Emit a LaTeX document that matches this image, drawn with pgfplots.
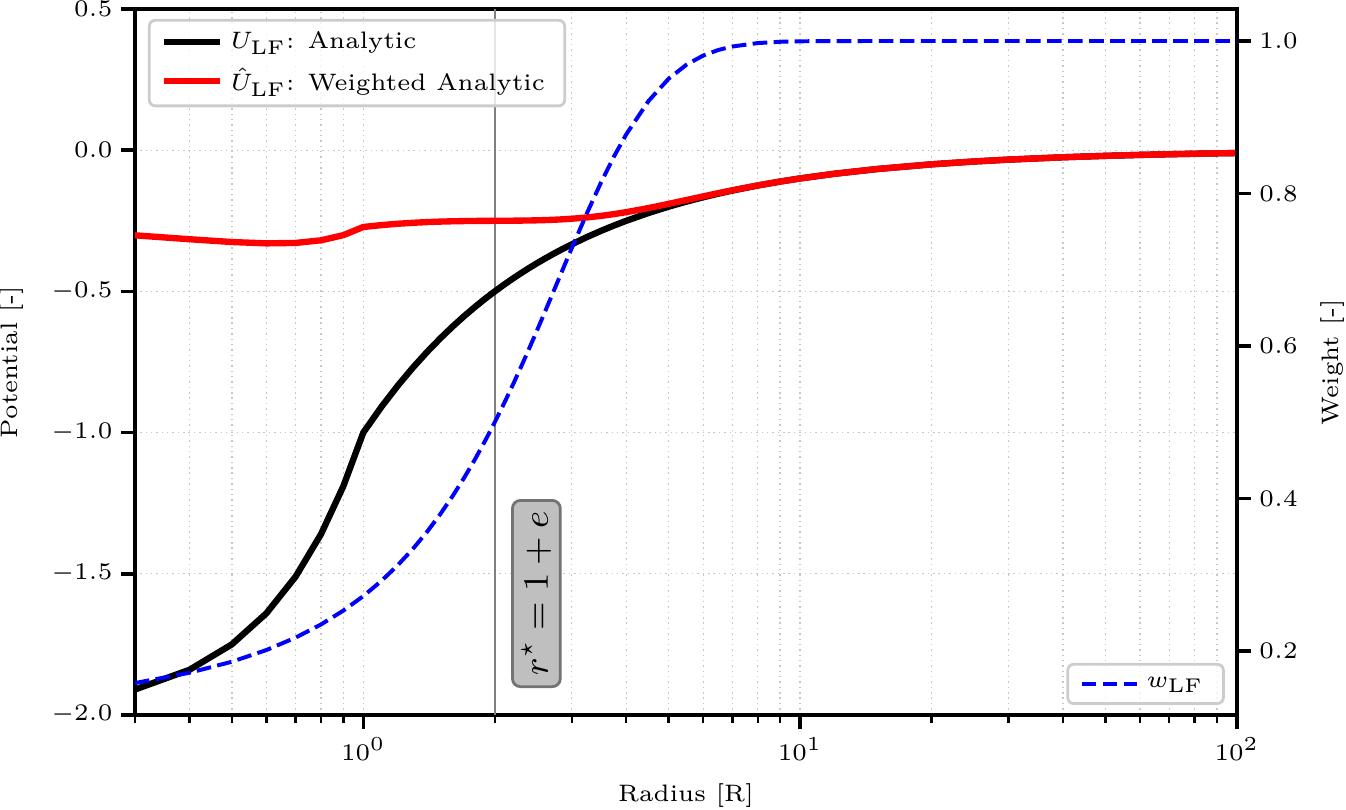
\documentclass[border=0pt]{standalone}
\usepackage{pgfplots}
\usepackage{pgfplotstable}
\pgfplotsset{compat=1.18}
\usetikzlibrary{calc}

\pgfplotstableread{
r U Uh w
0.3 -1.91 -0.30146 0.15783
0.4 -1.84 -0.31528 0.17135
0.5 -1.75 -0.32515 0.18580
0.6 -1.64 -0.32992 0.20117
0.7 -1.51 -0.32839 0.21748
0.8 -1.36 -0.31916 0.23468
0.9 -1.19 -0.30089 0.25285
1.0 -1.0 -0.27189 0.27189
1.1 -0.90909 -0.26530 0.29183
1.2 -0.83333 -0.26050 0.31260
1.3 -0.76923 -0.25703 0.33414
1.4 -0.71429 -0.25456 0.35638
1.5 -0.66667 -0.25287 0.37930
1.6 -0.62500 -0.25173 0.40276
1.7 -0.58824 -0.25098 0.42666
1.8 -0.55556 -0.25051 0.45092
1.9 -0.52632 -0.25021 0.47539
2.0 -0.50000 -0.25000 0.50000
2.1 -0.47619 -0.24981 0.52461
2.2 -0.45455 -0.24959 0.54908
2.3 -0.43478 -0.24928 0.57334
2.4 -0.41667 -0.24885 0.59724
2.5 -0.40000 -0.24828 0.62070
2.6 -0.38462 -0.24755 0.64362
2.7 -0.37037 -0.24661 0.66586
2.8 -0.35714 -0.24550 0.68740
2.9 -0.34483 -0.24420 0.70817
3.0 -0.33333 -0.24270 0.72811
3.25 -0.30769 -0.23816 0.77404
3.5 -0.28571 -0.23262 0.81419
3.75 -0.26667 -0.22630 0.84861
4.0 -0.25 -0.21940 0.87761
4.5 -0.22222 -0.20477 0.92147
5.0 -0.2 -0.19010 0.95052
5.5 -0.18182 -0.17621 0.96915
6.0 -0.16667 -0.16349 0.98092
6.5 -0.15385 -0.15204 0.98825
7 -0.14286 -0.14183 0.99279
8 -0.125 -0.12466 0.99729
9 -0.11111 -0.11100 0.99899
10 -0.1 -0.09996 0.99962
12 -0.08333 -0.08333 0.99995
15 -0.06667 -0.06667 1.0
20 -0.05 -0.05 1.0
25 -0.04 -0.04 1.0
30 -0.03333 -0.03333 1.0
40 -0.025 -0.025 1.0
50 -0.02 -0.02 1.0
60 -0.01667 -0.01667 1.0
70 -0.01429 -0.01429 1.0
80 -0.0125 -0.0125 1.0
90 -0.01111 -0.01111 1.0
100 -0.01 -0.01 1.0
}\tabU

\begin{document}
\fontsize{6}{7.2}\selectfont
\begin{tikzpicture}
\begin{axis}[name=ax1,
  scale only axis, width=277.7pt, height=177.9pt,
  xmode=log, xmin=0.3, xmax=100,
  xtick={1,10,100},
  minor xtick={0.3,0.4,0.5,0.6,0.7,0.8,0.9,2,3,4,5,6,7,8,9,20,30,40,50,60,70,80,90},
  axis line style={line width=1pt},
  tick align=outside,
  major tick length=3.5pt, minor tick length=2pt,
  every major tick/.append style={line width=0.9pt, black},
  every minor tick/.append style={line width=0.6pt, black},
  tick label style={font=\fontsize{6}{7.2}\selectfont},
  label style={font=\fontsize{6}{7.2}\selectfont},
  legend cell align=left,
  legend style={font=\fontsize{6}{7.2}\selectfont, draw=black!20, line width=0.7pt,
    rounded corners=1.5pt, fill=white, fill opacity=0.8, text opacity=1,
    nodes={inner ysep=0.5pt}, row sep=3pt,
    inner ysep=2.4pt, at={(0.0118,0.986)}, anchor=north west},
  legend image code/.code={\draw[#1] (0pt,0pt) -- (13.9pt,0pt);},
  ymin=-2, ymax=0.5, ytick={-2,-1.5,-1,-0.5,0,0.5},
  yticklabel style={/pgf/number format/.cd, fixed, fixed zerofill, precision=1},
  xtick pos=bottom, ytick pos=left,
  xmajorgrids, xminorgrids, ymajorgrids,
  major grid style={black!22, line width=0.35pt, densely dotted},
  minor grid style={black!22, line width=0.35pt, densely dotted},
  xlabel={Radius [R]}, ylabel={Potential [-]},
  xlabel style={at={(axis description cs:0.5,-0.1147)}, anchor=center},
  ylabel style={at={(axis description cs:-0.1116,0.5)}, anchor=center},
]
\addplot[gray, line width=0.5pt, forget plot] coordinates {(2,-2) (2,0.5)};
\addplot[black, line width=1.6pt, line join=round] table[x=r,y=U]{\tabU};
\addlegendentry{$U_{\mathrm{LF}}$: Analytic}
\addplot[red, line width=1.6pt, line join=round] table[x=r,y=Uh]{\tabU};
\addlegendentry{$\hat{U}_{\mathrm{LF}}$: Weighted Analytic}
\node[rotate=90, fill=black!25, draw=black!55, line width=0.7pt, rounded corners=2pt,
  inner xsep=2.8pt, inner ysep=2.3pt, font=\fontsize{9}{11}\selectfont]
  at (axis cs:2.49,-1.57) {$r^\star = 1+e$};
\end{axis}
\begin{axis}[
  scale only axis, width=277.7pt, height=177.9pt,
  xmode=log, xmin=0.3, xmax=100,
  hide x axis, axis y line*=right,
  axis line style={line width=1pt},
  ytick align=outside,
  major tick length=3.5pt,
  every major tick/.append style={line width=0.9pt, black},
  tick label style={font=\fontsize{6}{7.2}\selectfont},
  label style={font=\fontsize{6}{7.2}\selectfont},
  ymin=0.116, ymax=1.042, ytick={0.2,0.4,0.6,0.8,1.0},
  yticklabel style={/pgf/number format/.cd, fixed, fixed zerofill, precision=1},
  ylabel={Weight [-]},
  ylabel style={at={(axis description cs:1.0871,0.5)}, anchor=center},
  legend cell align=left,
  legend style={font=\fontsize{6}{7.2}\selectfont, draw=black!20, line width=0.7pt,
    rounded corners=1.5pt, fill=white, fill opacity=0.8, text opacity=1,
    inner ysep=1.2pt, at={(0.989,0.0142)}, anchor=south east},
  legend image code/.code={\draw[#1] (0pt,0pt) -- (13.9pt,0pt);},
]
\addplot[blue, line width=1pt, dash pattern=on 3.7pt off 1.6pt] table[x=r,y=w]{\tabU};
\addlegendentry{$w_{\mathrm{LF}}$}
\end{axis}
\pgfresetboundingbox
\path ($(ax1.south west)+(-34pt,-23.9pt)$) rectangle ($(ax1.north east)+(27.5pt,2.27pt)$);
\end{tikzpicture}
\end{document}
